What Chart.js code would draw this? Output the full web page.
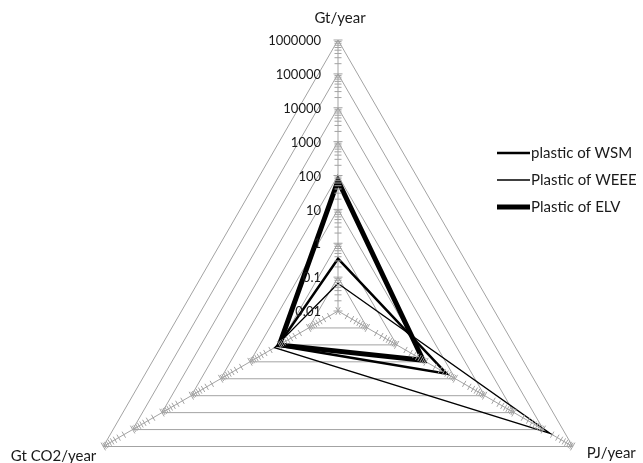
<!DOCTYPE html>
<html>
<head>
<meta charset="utf-8">
<script src="https://cdn.jsdelivr.net/npm/chart.js@4/dist/chart.umd.min.js"></script>
<style>
  html, body { margin: 0; padding: 0; background: #ffffff; }
  #wrap { width: 643px; height: 463px; }
</style>
</head>
<body>
<div id="wrap"><canvas id="c" width="643" height="463"></canvas></div>
<script>
// Axis categories (clockwise from the top)
const categories = ["Gt/year", "PJ/year", "Gt CO2/year"];

// Series values, in the units of each axis
const plasticWSM  = [0.35, 50, 1.1];
const plasticWEEE = [0.065, 170000, 1.45];
const plasticELV  = [70, 8, 1.0];

// Logarithmic tick labels shown along the top axis
const tickLabels = ["0.01", "0.1", "1", "10", "100", "1000", "10000", "100000", "1000000"];

const FONT = "Lato, 'Liberation Sans', sans-serif";
const GRID = "#a3a3a3";

// The radial scale is linear, so values are placed by their base-10 exponent
const toExp = arr => arr.map(v => Math.log10(v));
const minExp = Math.log10(Number(tickLabels[0]));
const maxExp = Math.log10(Number(tickLabels[tickLabels.length - 1]));

// Minor and major tick marks across every spoke
const axisTicksPlugin = {
  id: "axisTicks",
  afterDraw(chart) {
    const s = chart.scales.r;
    const ctx = chart.ctx;
    ctx.save();
    ctx.strokeStyle = GRID;
    ctx.lineWidth = 1;
    for (let i = 0; i < categories.length; i++) {
      const a = s.getIndexAngle(i) - Math.PI / 2;
      const px = -Math.sin(a), py = Math.cos(a);
      for (let d = Math.round(minExp); d <= Math.round(maxExp); d++) {
        for (let k = 1; k <= 9; k++) {
          const e = d + Math.log10(k);
          if (e > maxExp + 1e-9) break;
          const r = s.getDistanceFromCenterForValue(e);
          const p = s.getPointPosition(i, r);
          const L = k === 1 ? 4.5 : 3.5;
          ctx.beginPath();
          ctx.moveTo(p.x - px * L, p.y - py * L);
          ctx.lineTo(p.x + px * L, p.y + py * L);
          ctx.stroke();
        }
      }
    }
    ctx.restore();
  }
};

// Decade labels on the left of the top spoke, plus the spoke titles
const labelsPlugin = {
  id: "axisLabels",
  afterDraw(chart) {
    const s = chart.scales.r;
    const ctx = chart.ctx;
    ctx.save();
    ctx.fillStyle = "#1a1a1a";
    ctx.font = "13px " + FONT;
    ctx.textAlign = "right";
    ctx.textBaseline = "middle";
    s.ticks.forEach((t, idx) => {
      const r = s.getDistanceFromCenterForValue(t.value);
      const p = s.getPointPosition(0, r);
      ctx.fillText(tickLabels[idx], p.x - 17, p.y + 1);
    });

    ctx.font = "15px " + FONT;
    const ends = categories.map((_, i) => s.getPointPosition(i, s.drawingArea));
    ctx.textAlign = "center";
    ctx.fillText(categories[0], ends[0].x + 2, ends[0].y - 22);
    ctx.textAlign = "left";
    ctx.fillText(categories[1], ends[1].x + 14, ends[1].y + 7);
    ctx.textAlign = "right";
    ctx.fillText(categories[2], ends[2].x - 7, ends[2].y + 10);
    ctx.restore();
  }
};

// Line-sample legend on the right
const legendPlugin = {
  id: "sideLegend",
  afterDraw(chart) {
    const ctx = chart.ctx;
    ctx.save();
    ctx.font = "15px " + FONT;
    ctx.textAlign = "left";
    ctx.textBaseline = "middle";
    chart.data.datasets.forEach((ds, i) => {
      const y = 153 + i * 27;
      ctx.strokeStyle = ds.borderColor;
      ctx.lineWidth = ds.borderWidth;
      ctx.beginPath();
      ctx.moveTo(497, y);
      ctx.lineTo(530, y);
      ctx.stroke();
      ctx.fillStyle = "#1a1a1a";
      ctx.fillText(ds.label, 531, y);
    });
    ctx.restore();
  }
};

new Chart(document.getElementById("c"), {
  type: "radar",
  data: {
    labels: categories,
    datasets: [
      { label: "plastic of WSM",  data: toExp(plasticWSM),  borderColor: "#000000", borderWidth: 2.5, fill: false, pointRadius: 0, tension: 0 },
      { label: "Plastic of WEEE", data: toExp(plasticWEEE), borderColor: "#000000", borderWidth: 1.3, fill: false, pointRadius: 0, tension: 0 },
      { label: "Plastic of ELV",  data: toExp(plasticELV),  borderColor: "#000000", borderWidth: 5,   fill: false, pointRadius: 0, tension: 0 }
    ]
  },
  options: {
    responsive: false,
    animation: false,
    devicePixelRatio: 1,
    plugins: { legend: { display: false }, tooltip: { enabled: false } },
    scales: {
      r: {
        min: minExp,
        max: maxExp,
        ticks: { stepSize: 1, display: false },
        grid: { circular: false, color: GRID, lineWidth: 1 },
        angleLines: { display: true, color: GRID, lineWidth: 1 },
        pointLabels: { display: false },
        afterFit(scale) {
          scale.xCenter = 338;
          scale.yCenter = 311;
          scale.drawingArea = 271;
        }
      }
    }
  },
  plugins: [axisTicksPlugin, labelsPlugin, legendPlugin]
});
</script>
</body>
</html>
